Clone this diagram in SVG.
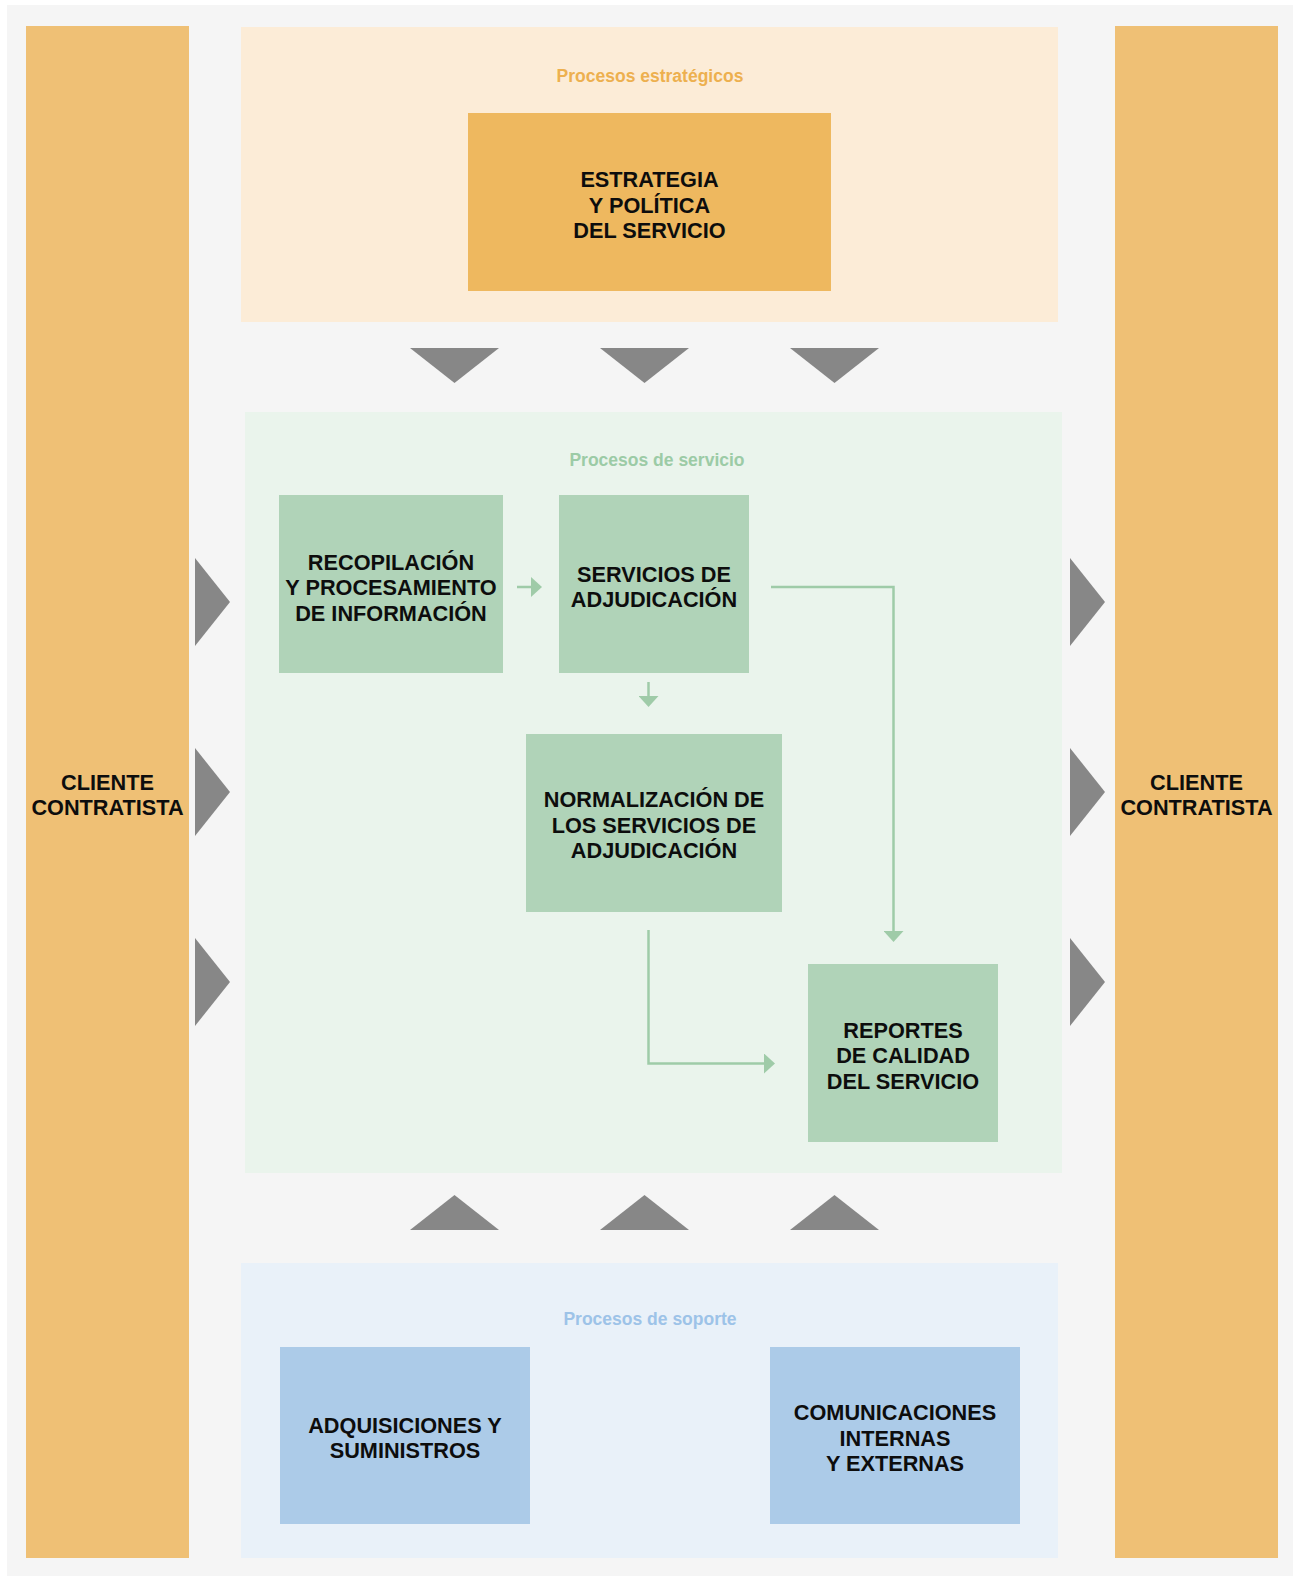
<svg xmlns="http://www.w3.org/2000/svg" width="1293" height="1576" viewBox="0 0 1293 1576">
  <defs>
    <style>
      .page { fill: #ffffff; }
      .canvas { fill: #f5f5f5; }
      .client { fill: #efc075; }
      .lane-strat { fill: #fcecd7; }
      .lane-serv { fill: #eaf4ec; }
      .lane-supp { fill: #e9f1f9; }
      .box-strat { fill: #eeb85f; }
      .box-serv { fill: #b0d3b8; }
      .box-supp { fill: #accbe8; }
      .flow { fill: #878787; }
      .label { font-family: "Liberation Sans", Arial, sans-serif; font-weight: bold; font-size: 21.7px; fill: #0d0d0d; text-anchor: middle; }
      .title { font-family: "Liberation Sans", Arial, sans-serif; font-weight: bold; font-size: 17.5px; text-anchor: middle; }
      .t-strat { fill: #edb04f; }
      .t-serv { fill: #9ccba6; }
      .t-supp { fill: #9dc3e8; }
      .link { fill: none; stroke: #9fcba8; stroke-width: 2.5; }
    </style>
    <marker id="head" markerUnits="userSpaceOnUse" markerWidth="12" markerHeight="20" viewBox="0 0 11 20" refX="0" refY="10" orient="auto">
      <path d="M0,0 L11,10 L0,20 Z" fill="#9fcba8"/>
    </marker>
  </defs>

  <!-- background -->
  <rect class="page" x="0" y="0" width="1293" height="1576"/>
  <rect class="canvas" x="7" y="5" width="1286" height="1571"/>

  <!-- client columns -->
  <g id="client-left">
    <rect class="client" x="26" y="26" width="163" height="1532"/>
    <text class="label"><tspan x="107.5" y="790">CLIENTE</tspan><tspan x="107.5" y="815">CONTRATISTA</tspan></text>
  </g>
  <g id="client-right">
    <rect class="client" x="1115" y="26" width="163" height="1532"/>
    <text class="label"><tspan x="1196.5" y="790">CLIENTE</tspan><tspan x="1196.5" y="815">CONTRATISTA</tspan></text>
  </g>

  <!-- process lanes -->
  <g id="lane-strategic">
    <rect class="lane-strat" x="241" y="27" width="817" height="295"/>
    <text class="title t-strat" x="650" y="82">Procesos estratégicos</text>
  </g>
  <g id="lane-service">
    <rect class="lane-serv" x="245" y="412" width="817" height="761"/>
    <text class="title t-serv" x="657" y="466">Procesos de servicio</text>
  </g>
  <g id="lane-support">
    <rect class="lane-supp" x="241" y="1263" width="817" height="295"/>
    <text class="title t-supp" x="650" y="1325">Procesos de soporte</text>
  </g>

  <!-- flow chevrons between lanes and clients -->
  <g id="flow-markers">
    <polygon class="flow" points="410,348 499,348 454.5,383"/>
    <polygon class="flow" points="600,348 689,348 644.5,383"/>
    <polygon class="flow" points="790,348 879,348 834.5,383"/>
    <polygon class="flow" points="410,1230 499,1230 454.5,1195"/>
    <polygon class="flow" points="600,1230 689,1230 644.5,1195"/>
    <polygon class="flow" points="790,1230 879,1230 834.5,1195"/>
    <polygon class="flow" points="195,558 230,602 195,646"/>
    <polygon class="flow" points="195,748 230,792 195,836"/>
    <polygon class="flow" points="195,938 230,982 195,1026"/>
    <polygon class="flow" points="1070,558 1105,602 1070,646"/>
    <polygon class="flow" points="1070,748 1105,792 1070,836"/>
    <polygon class="flow" points="1070,938 1105,982 1070,1026"/>
  </g>

  <!-- nodes -->
  <g id="estrategia">
    <rect class="box-strat" x="468" y="113" width="363" height="178"/>
    <text class="label"><tspan x="649.5" y="187">ESTRATEGIA</tspan><tspan x="649.5" y="212.5">Y POLÍTICA</tspan><tspan x="649.5" y="238">DEL SERVICIO</tspan></text>
  </g>
  <g id="recopilacion">
    <rect class="box-serv" x="279" y="495" width="224" height="178"/>
    <text class="label"><tspan x="391" y="569.5">RECOPILACIÓN</tspan><tspan x="391" y="595">Y PROCESAMIENTO</tspan><tspan x="391" y="620.5">DE INFORMACIÓN</tspan></text>
  </g>
  <g id="servicios">
    <rect class="box-serv" x="559" y="495" width="190" height="178"/>
    <text class="label"><tspan x="654" y="581.5">SERVICIOS DE</tspan><tspan x="654" y="607">ADJUDICACIÓN</tspan></text>
  </g>
  <g id="normalizacion">
    <rect class="box-serv" x="526" y="734" width="256" height="178"/>
    <text class="label"><tspan x="654" y="807">NORMALIZACIÓN DE</tspan><tspan x="654" y="832.5">LOS SERVICIOS DE</tspan><tspan x="654" y="858">ADJUDICACIÓN</tspan></text>
  </g>
  <g id="reportes">
    <rect class="box-serv" x="808" y="964" width="190" height="178"/>
    <text class="label"><tspan x="903" y="1037.5">REPORTES</tspan><tspan x="903" y="1063">DE CALIDAD</tspan><tspan x="903" y="1088.5">DEL SERVICIO</tspan></text>
  </g>
  <g id="adquisiciones">
    <rect class="box-supp" x="280" y="1347" width="250" height="177"/>
    <text class="label"><tspan x="405" y="1432.5">ADQUISICIONES Y</tspan><tspan x="405" y="1458">SUMINISTROS</tspan></text>
  </g>
  <g id="comunicaciones">
    <rect class="box-supp" x="770" y="1347" width="250" height="177"/>
    <text class="label"><tspan x="895" y="1420">COMUNICACIONES</tspan><tspan x="895" y="1445.5">INTERNAS</tspan><tspan x="895" y="1471">Y EXTERNAS</tspan></text>
  </g>

  <!-- connectors -->
  <g id="connectors">
    <path class="link" d="M517,587 H531" marker-end="url(#head)"/>
    <path class="link" d="M648.5,682 V696" marker-end="url(#head)"/>
    <path class="link" d="M771,587 H893.5 V931" marker-end="url(#head)"/>
    <path class="link" d="M648.5,930 V1063.5 H764" marker-end="url(#head)"/>
  </g>
</svg>
